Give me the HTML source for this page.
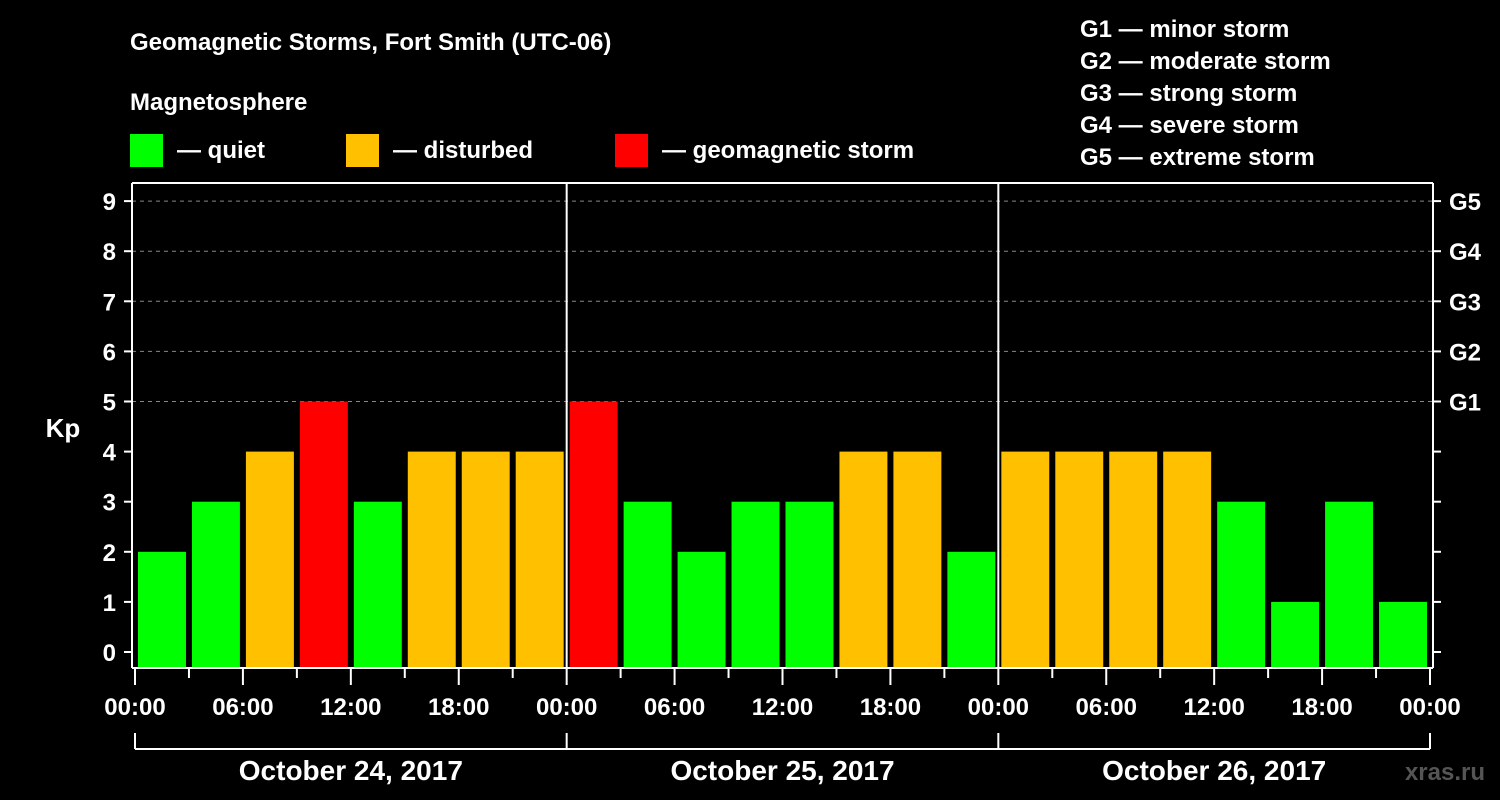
<!DOCTYPE html>
<html><head><meta charset="utf-8"><style>
html,body{margin:0;padding:0;background:#000;}
svg{display:block;font-family:"Liberation Sans",sans-serif;font-weight:bold;}
</style></head><body>
<svg id="chart" width="1500" height="800" viewBox="0 0 1500 800">
<rect width="1500" height="800" fill="#000"/>
<text x="130" y="50" fill="#fff" font-size="24">Geomagnetic Storms, Fort Smith (UTC-06)</text>
<text x="130" y="110" fill="#fff" font-size="24">Magnetosphere</text>
<g><rect x="130" y="134" width="33" height="33" fill="#00ff00"/><text x="177" y="158" fill="#fff" font-size="24">— quiet</text></g>
<g><rect x="346" y="134" width="33" height="33" fill="#ffc000"/><text x="393" y="158" fill="#fff" font-size="24">— disturbed</text></g>
<g><rect x="615" y="134" width="33" height="33" fill="#ff0000"/><text x="662" y="158" fill="#fff" font-size="24">— geomagnetic storm</text></g>
<g fill="#fff" font-size="24">
<text x="1080" y="37">G1 — minor storm</text>
<text x="1080" y="69">G2 — moderate storm</text>
<text x="1080" y="101">G3 — strong storm</text>
<text x="1080" y="133">G4 — severe storm</text>
<text x="1080" y="165">G5 — extreme storm</text>
</g>
<text x="63" y="437" fill="#fff" font-size="26" text-anchor="middle">Kp</text>
<text x="1485" y="780" fill="#555" font-size="24" text-anchor="end">xras.ru</text>
<g id="grid"></g><g id="bars"></g><g id="axes"></g>
</svg>
<script>
const kpValues = [2,3,4,5,3,4,4,4, 5,3,2,3,3,4,4,2, 4,4,4,4,3,1,3,1];
const dayLabels = ["October 24, 2017","October 25, 2017","October 26, 2017"];
const hourLabels = ["00:00","06:00","12:00","18:00"];
const gLabels = ["G1","G2","G3","G4","G5"];
const NS="http://www.w3.org/2000/svg";
const X0=135, X1=1430, Y0=652, YU=50.1, PT=183, PB=668, AL=132, AR=1433;
const slot=(X1-X0)/kpValues.length;
const xs=i=>X0+i*slot;
const ys=v=>Y0-v*YU;
function mk(tag,attrs,parent,txt){const e=document.createElementNS(NS,tag);for(const k in attrs)e.setAttribute(k,attrs[k]);if(txt!==undefined)e.textContent=txt;parent.appendChild(e);return e;}
const grid=document.getElementById('grid'),bars=document.getElementById('bars'),axes=document.getElementById('axes');
for(let v=5;v<=9;v++){const l=mk('line',{x1:AL,x2:AR,y1:ys(v),y2:ys(v),stroke:'#888','stroke-width':1,'stroke-dasharray':'4,4'},grid);

}
kpValues.forEach((v,i)=>{const c=v>=5?'#ff0000':(v>=4?'#ffc000':'#00ff00');
const r=mk('rect',{x:xs(i)+3,y:ys(v),width:slot-6,height:PB-ys(v),fill:c},bars);

});
// axes frame
mk('line',{x1:AL,x2:AL,y1:PT,y2:PB,stroke:'#fff','stroke-width':2},axes);
mk('line',{x1:AR,x2:AR,y1:PT,y2:PB,stroke:'#fff','stroke-width':2},axes);
mk('line',{x1:AL,x2:AR,y1:PT,y2:PT,stroke:'#fff','stroke-width':2},axes);
mk('line',{x1:AL,x2:AR,y1:PB,y2:PB,stroke:'#fff','stroke-width':2},axes);
for(let d=1;d<dayLabels.length;d++){const x=xs(d*8);mk('line',{x1:x,x2:x,y1:PT,y2:PB,stroke:'#fff','stroke-width':2},axes);}
for(let v=0;v<=9;v++){const y=ys(v);
mk('line',{x1:AL-8,x2:AL,y1:y,y2:y,stroke:'#fff','stroke-width':2},axes);
mk('line',{x1:AR,x2:AR+8,y1:y,y2:y,stroke:'#fff','stroke-width':2},axes);
const t=mk('text',{x:AL-16,y:y+9,fill:'#fff','font-size':24,'text-anchor':'end'},axes,String(v));


if(v>=5){const g=mk('text',{x:AR+16,y:y+9,fill:'#fff','font-size':24},axes,gLabels[v-5]);

}}
for(let i=0;i<=kpValues.length;i++){const x=xs(i),major=i%2===0;
mk('line',{x1:x,x2:x,y1:PB,y2:PB+(major?17:10),stroke:'#fff','stroke-width':2},axes);
if(major){const t=mk('text',{x:x,y:715,fill:'#fff','font-size':24,'text-anchor':'middle'},axes,hourLabels[(i/2)%4]);

}}
mk('line',{x1:X0,x2:X1,y1:749,y2:749,stroke:'#fff','stroke-width':2},axes);
for(let d=0;d<=dayLabels.length;d++){const x=xs(d*8);mk('line',{x1:x,x2:x,y1:733,y2:749,stroke:'#fff','stroke-width':2},axes);}
dayLabels.forEach((s,d)=>{const t=mk('text',{x:(xs(d*8)+xs(d*8+8))/2,y:780,fill:'#fff','font-size':28,'text-anchor':'middle'},axes,s);

});
</script>
</body></html>
